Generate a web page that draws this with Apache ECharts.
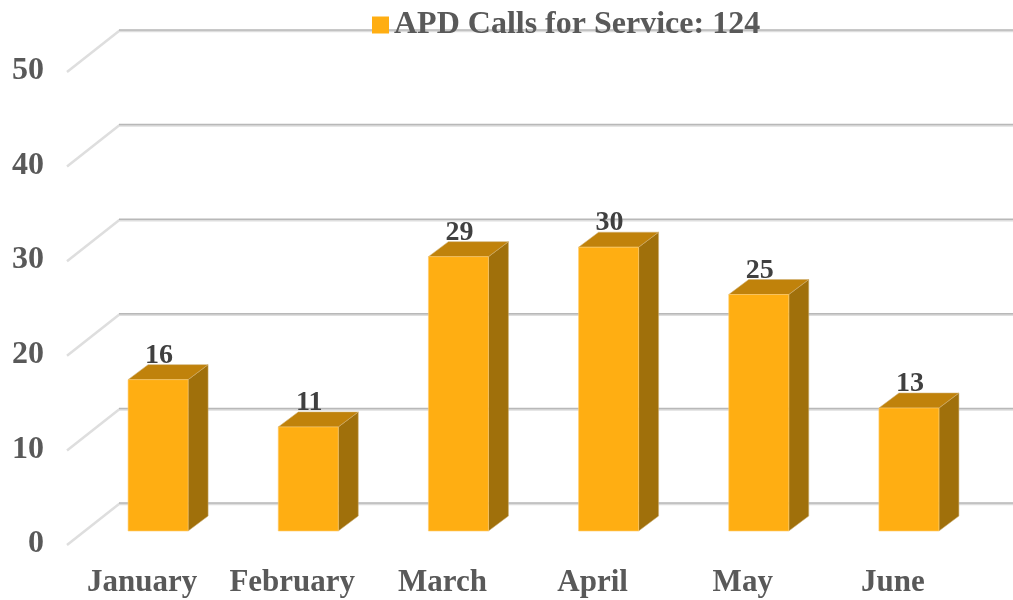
<!DOCTYPE html>
<html>
<head>
<meta charset="utf-8">
<style>
  html, body { margin: 0; padding: 0; background: #fff; }
  #main { width: 1013px; height: 600px; }
</style>
<script src="https://cdn.jsdelivr.net/npm/echarts@6/dist/echarts.min.js"></script>
</head>
<body>
<div id="main"></div>
<script>
const months = ['January', 'February', 'March', 'April', 'May', 'June'];
const calls = [16, 11, 29, 30, 25, 13];
const gridValues = [0, 10, 20, 30, 40, 50];
const seriesName = 'APD Calls for Service: 124';

const fontName = '"Liberation Serif", serif';

// depth of the fake 3d box, in pixels from the front edge of the floor
const barOffset = [16, -13];
const barDepth = [20, -15];
const wallOffset = [52, -41];
const barWidth = 60;
const edgeColor = 'rgba(205,175,115,0.55)';

function shift(p, d) {
    return [p[0] + d[0], p[1] + d[1]];
}

function renderGridLine(params, api) {
    let front = api.coord([0, api.value(0)]);
    front[0] = params.coordSys.x;
    let back = shift(front, wallOffset);
    return {
        type: 'group',
        silent: true,
        children: [
            {
                type: 'polyline',
                shape: { points: [[front[0], front[1] + 1], [back[0], back[1] + 1], [1013, back[1] + 1]] },
                style: { fill: 'none', stroke: '#dedede', lineWidth: 2.5 }
            },
            {
                type: 'polyline',
                shape: { points: [back, [1013, back[1]]] },
                style: { fill: 'none', stroke: '#b8b8b8', lineWidth: 1.5 }
            }
        ]
    };
}

function renderBar(params, api) {
    let bottom = shift(api.coord([api.value(0), 0]), barOffset);
    let top = shift(api.coord([api.value(0), api.value(1)]), barOffset);
    let x0 = bottom[0] - barWidth / 2;
    let x1 = x0 + barWidth;
    let yb = bottom[1];
    let yt = top[1];
    let dx = barDepth[0];
    let dy = barDepth[1];
    return {
        type: 'group',
        children: [
            {
                type: 'polygon',
                shape: { points: [[x1, yt], [x1 + dx, yt + dy], [x1 + dx, yb + dy], [x1, yb]] },
                style: { fill: '#a0700b', stroke: edgeColor, lineWidth: 1 }
            },
            {
                type: 'polygon',
                shape: { points: [[x0, yt], [x0 + dx, yt + dy], [x1 + dx, yt + dy], [x1, yt]] },
                style: { fill: '#c0820b', stroke: edgeColor, lineWidth: 1 }
            },
            {
                type: 'rect',
                shape: { x: x0, y: yt, width: barWidth, height: yb - yt },
                style: { fill: '#ffae12', stroke: 'rgba(255,205,110,0.6)', lineWidth: 1 }
            },
            {
                type: 'text',
                x: (x0 + x1) / 2 + 1,
                y: yt - 24,
                style: {
                    text: String(api.value(1)),
                    fill: '#404040',
                    font: 'bold 28px ' + fontName,
                    align: 'center',
                    verticalAlign: 'middle'
                }
            }
        ]
    };
}

let myChart = echarts.init(document.getElementById('main'), null, { renderer: 'canvas' });
myChart.setOption({
    animation: false,
    backgroundColor: '#fff',
    legend: {
        data: [seriesName],
        top: 4,
        left: 367,
        icon: 'rect',
        itemWidth: 17,
        itemHeight: 17,
        itemGap: 2,
        selectedMode: false,
        textStyle: {
            color: '#595959',
            fontFamily: fontName,
            fontWeight: 'bold',
            fontSize: 32
        }
    },
    grid: {
        left: 67,
        top: 71,
        width: 901,
        height: 473
    },
    xAxis: {
        type: 'category',
        data: months,
        axisLine: { show: false },
        axisTick: { show: false },
        axisLabel: {
            interval: 0,
            margin: 23,
            color: '#595959',
            fontFamily: fontName,
            fontWeight: 'bold',
            fontSize: 31
        }
    },
    yAxis: {
        type: 'value',
        min: 0,
        max: 50,
        interval: 10,
        axisLine: { show: false },
        axisTick: { show: false },
        splitLine: { show: false },
        axisLabel: {
            margin: 23,
            color: '#595959',
            fontFamily: fontName,
            fontWeight: 'bold',
            fontSize: 32
        }
    },
    series: [
        {
            name: 'grid',
            type: 'custom',
            z: 1,
            silent: true,
            clip: false,
            renderItem: renderGridLine,
            data: gridValues.map((v) => [v]),
            encode: { y: 0 }
        },
        {
            name: seriesName,
            type: 'custom',
            z: 2,
            clip: false,
            itemStyle: { color: '#ffae12' },
            renderItem: renderBar,
            data: calls.map((v, i) => [i, v]),
            encode: { x: 0, y: 1 }
        }
    ]
});
</script>
</body>
</html>
